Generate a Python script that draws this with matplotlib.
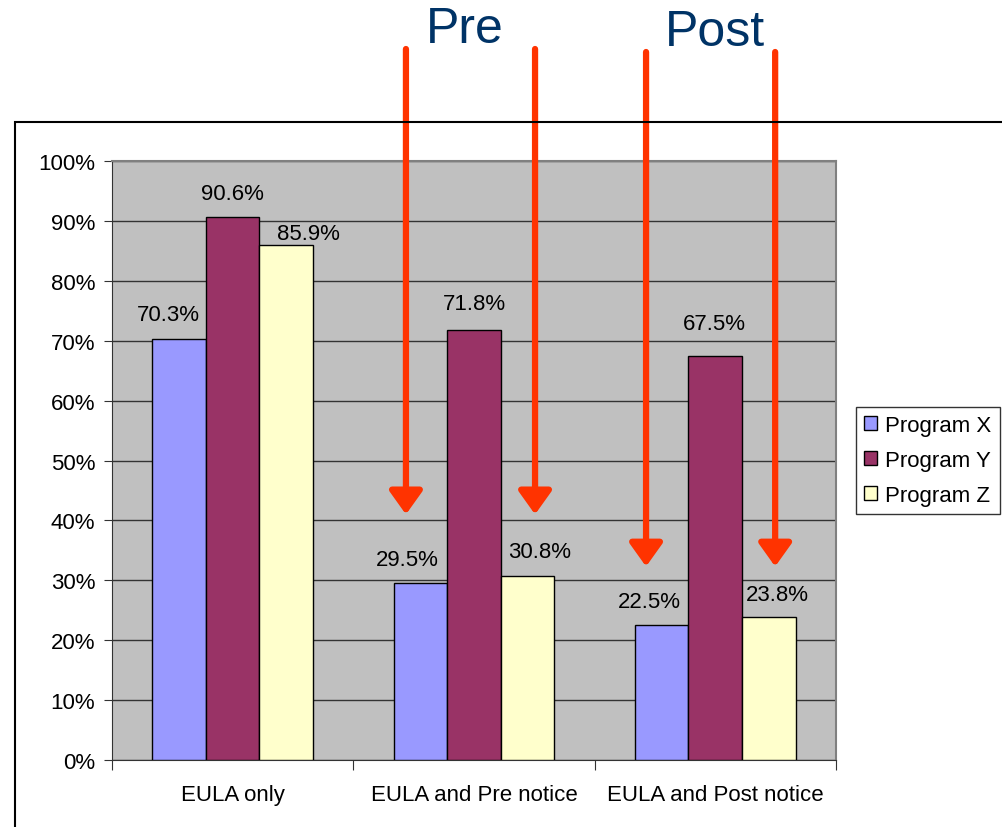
import matplotlib
matplotlib.use("Agg")
import matplotlib.pyplot as plt
import numpy as np
from matplotlib.patches import Rectangle

plt.rcParams["font.family"] = ["Liberation Sans", "DejaVu Sans"]

categories = ["EULA only", "EULA and Pre notice", "EULA and Post notice"]
series_names = ["Program X", "Program Y", "Program Z"]
program_x = [70.3, 29.5, 22.5]
program_y = [90.6, 71.8, 67.5]
program_z = [85.9, 30.8, 23.8]
series_colors = ["#9999FF", "#993366", "#FFFFCC"]

# label nudges in pixels (the labels were dragged by hand in the original)
label_dx = [[-11, -13, -12], [0, 0, -1], [22, 12, 8]]
label_dy = [[14, 13, 13], [13, 16, 22], [1, 14, 12]]

# arrow positions (x in category units, tip height in %)
pre_arrows_x = [0.718, 1.253]
pre_tip = 41.0
post_arrows_x = [1.713, 2.248]
post_tip = 32.3

fig = plt.figure(figsize=(10.02, 8.28), dpi=100)
ax = fig.add_axes([0.1118, 0.0809, 0.7225, 0.7234])

# chart area frame (extends off the image right/bottom like the screenshot)
fig.patches.append(Rectangle((15 / 1002, -0.05), 1.2, (828 - 123) / 828 + 0.05,
                             transform=fig.transFigure, fill=False,
                             edgecolor="black", lw=1.5, zorder=0))

ax.set_facecolor("#C0C0C0")
n = len(categories)
x = np.arange(n)
bw = 1 / 4.5
for i, (vals, name, col) in enumerate(zip([program_x, program_y, program_z],
                                          series_names, series_colors)):
    pos = x + (i - 1) * bw
    ax.bar(pos, vals, width=bw, color=col, edgecolor="black", lw=1.0,
           label=name, zorder=3)
    for j, (px, v) in enumerate(zip(pos, vals)):
        ax.annotate(f"{v:.1f}%", xy=(px, v),
                    xytext=(label_dx[i][j], label_dy[i][j]),
                    textcoords="offset pixels", ha="center", va="bottom",
                    fontsize=16, zorder=4)

ax.set_xlim(-0.5, n - 0.5)
ax.set_ylim(0, 100)
ax.set_yticks(np.arange(0, 101, 10))
ax.set_yticklabels([f"{t}%" for t in range(0, 101, 10)], fontsize=16)
ax.yaxis.grid(True, color="#333333", lw=1.0, zorder=1)
ax.set_axisbelow(True)

ax.set_xticks(np.arange(-0.5, n, 1.0))
ax.set_xticklabels([])
ax.set_xticks(x, minor=True)
ax.set_xticklabels(categories, minor=True, fontsize=16)
ax.tick_params(axis="x", which="minor", length=0, pad=17)
ax.tick_params(axis="x", which="major", length=7, direction="out", color="#333333")
ax.tick_params(axis="y", length=6, direction="out", color="#333333", pad=6)

for s in ["top", "right"]:
    ax.spines[s].set_color("#808080")
    ax.spines[s].set_linewidth(1.5)
ax.spines["left"].set_color("#333333")
ax.spines["bottom"].set_color("#333333")

leg = ax.legend(loc="center left", bbox_to_anchor=(1.027, 0.5), fontsize=16,
                frameon=True, fancybox=False, edgecolor="black",
                handlelength=0.6, handleheight=0.6, handletextpad=0.35,
                labelspacing=0.62, borderpad=0.38, borderaxespad=0)
leg.get_frame().set_linewidth(1.0)

arrow_color = "#FF3300"
aprops = dict(arrowstyle="-|>,head_length=0.7,head_width=0.5", lw=4.5,
              color=arrow_color, mutation_scale=20, shrinkA=0, shrinkB=0)
for xa in pre_arrows_x:
    top = ax.transData.inverted().transform(fig.transFigure.transform((0, 1 - 50 / 828)))[1]
    ax.annotate("", xy=(xa, pre_tip), xytext=(xa, top), arrowprops=aprops,
                annotation_clip=False, zorder=6)
for xa in post_arrows_x:
    top = ax.transData.inverted().transform(fig.transFigure.transform((0, 1 - 53 / 828)))[1]
    ax.annotate("", xy=(xa, post_tip), xytext=(xa, top), arrowprops=aprops,
                annotation_clip=False, zorder=6)

fig.text(465 / 1002, 1 - 30 / 828, "Pre", ha="center", va="center",
         fontsize=36, color="#003366")
fig.text(715 / 1002, 1 - 33 / 828, "Post", ha="center", va="center",
         fontsize=36, color="#003366")

fig.savefig("out.png", dpi=100)
